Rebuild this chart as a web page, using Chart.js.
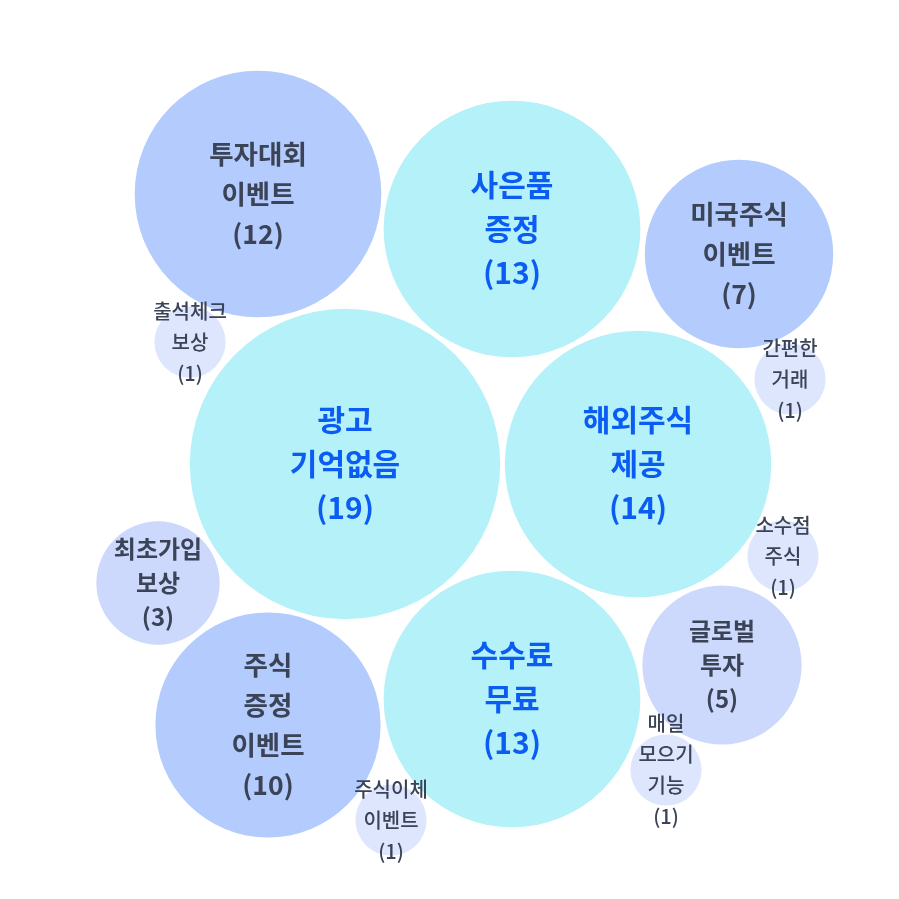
<!DOCTYPE html>
<html>
<head>
<meta charset="utf-8">
<script src="https://cdn.jsdelivr.net/npm/chart.js@4"></script>
<style>
  html, body { margin: 0; padding: 0; background: #fff; overflow: hidden; }
  #frame { width: 899px; height: 899px; overflow: hidden; position: relative; }
  #wrap { position: absolute; }
</style>
</head>
<body>
<div id="frame"><div id="wrap"><canvas id="bubbleChart"></canvas></div></div>
<script>
// topics and mention counts
const topics = [
  ["광고", "기억없음"],
  ["해외주식", "제공"],
  ["사은품", "증정"],
  ["수수료", "무료"],
  ["투자대회", "이벤트"],
  ["주식", "증정", "이벤트"],
  ["미국주식", "이벤트"],
  ["글로벌", "투자"],
  ["최초가입", "보상"],
  ["출석체크", "보상"],
  ["간편한", "거래"],
  ["소수점", "주식"],
  ["매일", "모으기", "기능"],
  ["주식이체", "이벤트"],
];
const counts = [19, 14, 13, 13, 12, 10, 7, 5, 3, 1, 1, 1, 1, 1];
// packed centre of each bubble (data units, 0-899 both ways)
const centerX = [345, 638, 512, 512, 258, 268, 739, 722, 158, 190, 790, 783, 666, 391];
const centerY = [464, 464, 229, 699, 194, 725, 254, 665, 583, 342, 379, 556, 770, 820];

const radiusOf = (v) => 35.6 * Math.sqrt(v);
// bubble charts pad the chart area by the biggest radius; grow the canvas by that
// much on every side and shift it back so the plot area is the 899px window
const pad = Math.ceil(Math.max(...counts.map(radiusOf)));
const wrap = document.getElementById("wrap");
wrap.style.width = 899 + 2 * pad + "px";
wrap.style.height = 899 + 2 * pad + "px";
wrap.style.left = -pad + "px";
wrap.style.top = -pad + "px";

function tier(v) {
  if (v >= 13) return 0;
  if (v >= 7) return 1;
  if (v >= 3) return 2;
  return 3;
}
const fills = ["#b5f1f9", "#b3cbfd", "#ccd9fd", "#dde6fd"];
const textColors = ["#0b5cf2", "#3b4357", "#3b4357", "#3b4357"];
const fontSizes = [30, 26.5, 24, 20];
const fontWeights = ["bold", "bold", "bold", "500"];
const lineGaps = [44, 40, 34, 31];

const bubbleLabels = {
  id: "bubbleLabels",
  afterDatasetsDraw(chart) {
    const ctx = chart.ctx;
    const meta = chart.getDatasetMeta(0);
    meta.data.forEach((pt, i) => {
      const t = tier(counts[i]);
      const lines = topics[i].concat(["(" + counts[i] + ")"]);
      ctx.save();
      ctx.fillStyle = textColors[t];
      ctx.font = fontWeights[t] + " " + fontSizes[t] + "px 'Noto Sans CJK KR', 'Noto Sans', sans-serif";
      ctx.textAlign = "center";
      ctx.textBaseline = "middle";
      const gap = lineGaps[t];
      const top = pt.y - (gap * (lines.length - 1)) / 2;
      lines.forEach((ln, k) => ctx.fillText(ln, pt.x, top + k * gap));
      ctx.restore();
    });
  },
};

new Chart(document.getElementById("bubbleChart"), {
  type: "bubble",
  data: {
    datasets: [
      {
        data: counts.map((v, i) => ({ x: centerX[i], y: centerY[i], r: radiusOf(v) })),
        backgroundColor: counts.map((v) => fills[tier(v)]),
        borderWidth: 0,
        hoverBorderWidth: 0,
        clip: false,
      },
    ],
  },
  options: {
    responsive: true,
    maintainAspectRatio: false,
    animation: false,
    events: [],
    layout: { padding: pad },
    plugins: { legend: { display: false }, tooltip: { enabled: false } },
    scales: {
      x: { type: "linear", min: 0, max: 899, display: false },
      y: { type: "linear", min: 0, max: 899, reverse: true, display: false },
    },
  },
  plugins: [bubbleLabels],
});
</script>
</body>
</html>
